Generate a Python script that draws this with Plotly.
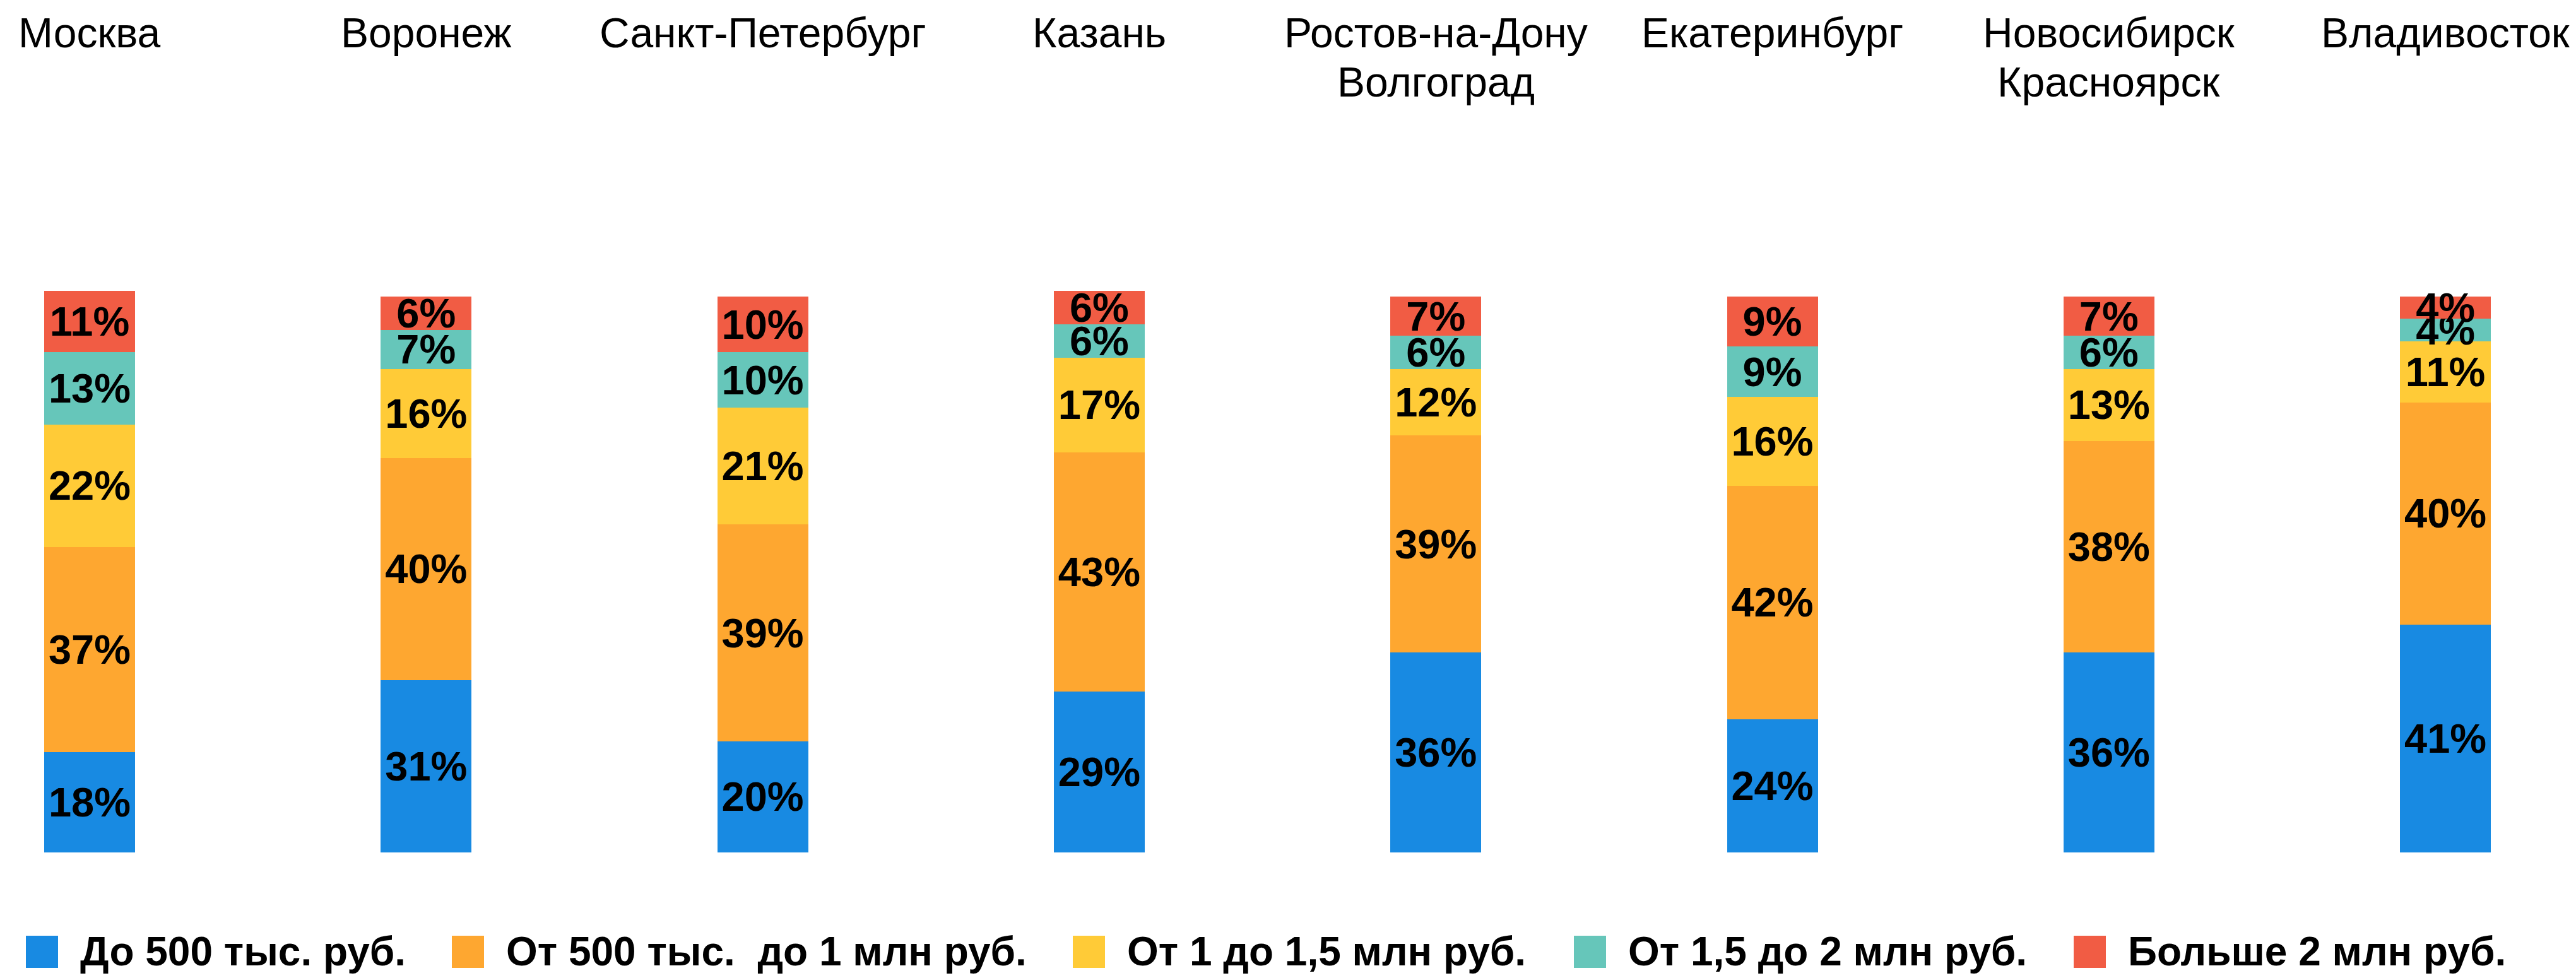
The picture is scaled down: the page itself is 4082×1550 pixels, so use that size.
import plotly.graph_objects as go

# ---- data ----
cities = ["Москва", "Воронеж", "Санкт-Петербург", "Казань",
          "Ростов-на-Дону<br>Волгоград", "Екатеринбург",
          "Новосибирск<br>Красноярск", "Владивосток"]
series_names = ["До 500 тыс. руб.", "От 500 тыс.  до 1 млн руб.",
                "От 1 до 1,5 млн руб.", "От 1,5 до 2 млн руб.", "Больше 2 млн руб."]
up_to_500k = [18, 31, 20, 29, 36, 24, 36, 41]
from_500k_to_1m = [37, 40, 39, 43, 39, 42, 38, 40]
from_1m_to_1_5m = [22, 16, 21, 17, 12, 16, 13, 11]
from_1_5m_to_2m = [13, 7, 10, 6, 6, 9, 6, 4]
over_2m = [11, 6, 10, 6, 7, 9, 7, 4]
series_values = [up_to_500k, from_500k_to_1m, from_1m_to_1_5m, from_1_5m_to_2m, over_2m]
colors = ["#188AE2", "#FEA730", "#FFCB37", "#66C6BA", "#F15C44"]

# ---- layout constants (pixels, page coordinates; page body has 8px margin) ----
OFF = 8
W, H = 4082, 1550
YMAX = 101.5
PX_PER_PCT = 8.81
BAR_BOTTOM = 1351
B = H - (BAR_BOTTOM - OFF)
PH = YMAX * PX_PER_PCT
T = H - B - PH


def py2paper(py):
    return (H - B - (py - OFF)) / PH


def px2paper(px):
    return (px - OFF) / W


fig = go.Figure()
for name, vals, col in zip(series_names, series_values, colors):
    fig.add_trace(go.Bar(
        x=cities, y=vals, name=name,
        marker=dict(color=col, line=dict(width=0)),
        text=[f"{v}%" for v in vals],
        textposition="inside", insidetextanchor="middle", textangle=0,
        insidetextfont=dict(family="Liberation Sans", size=65, color="black", weight="bold"),
        cliponaxis=False, showlegend=False, hoverinfo="skip",
    ))

# city labels at top (each line placed separately)
line_gap = 78
for c in cities:
    for i, line in enumerate(c.split("<br>")):
        fig.add_annotation(x=c, xref="x", y=py2paper(52 + i * line_gap), yref="paper",
                           text=line, showarrow=False, xanchor="center", yanchor="middle",
                           font=dict(family="Liberation Sans", size=66, color="black"))

# manual legend
legend_left = [41, 716, 1700, 2494, 3286]
sq = 51
sq_top = 1483
for name, col, lx in zip(series_names, colors, legend_left):
    fig.add_shape(type="rect", xref="paper", yref="paper",
                  x0=px2paper(lx), x1=px2paper(lx + sq),
                  y0=py2paper(sq_top + sq), y1=py2paper(sq_top),
                  fillcolor=col, line=dict(width=0))
    fig.add_annotation(x=px2paper(lx + 84), xref="paper",
                       y=py2paper(sq_top + sq / 2), yref="paper",
                       text=name, showarrow=False, xanchor="left", yanchor="middle",
                       font=dict(family="Liberation Sans", size=64, color="black", weight="bold"))

bw = 533.3
first_center = 142 - OFF
fig.update_layout(
    width=W, height=H,
    margin=dict(l=0, r=0, t=T, b=B, pad=0),
    barmode="stack", bargap=0.73,
    plot_bgcolor="white", paper_bgcolor="white",
    uniformtext=dict(minsize=65, mode="show"),
    xaxis=dict(range=[-first_center / bw, -first_center / bw + W / bw], showticklabels=False,
               showgrid=False, zeroline=False, showline=False, ticks=""),
    yaxis=dict(range=[0, YMAX], visible=False, showgrid=False, zeroline=False),
)

fig.write_html("out.html")
